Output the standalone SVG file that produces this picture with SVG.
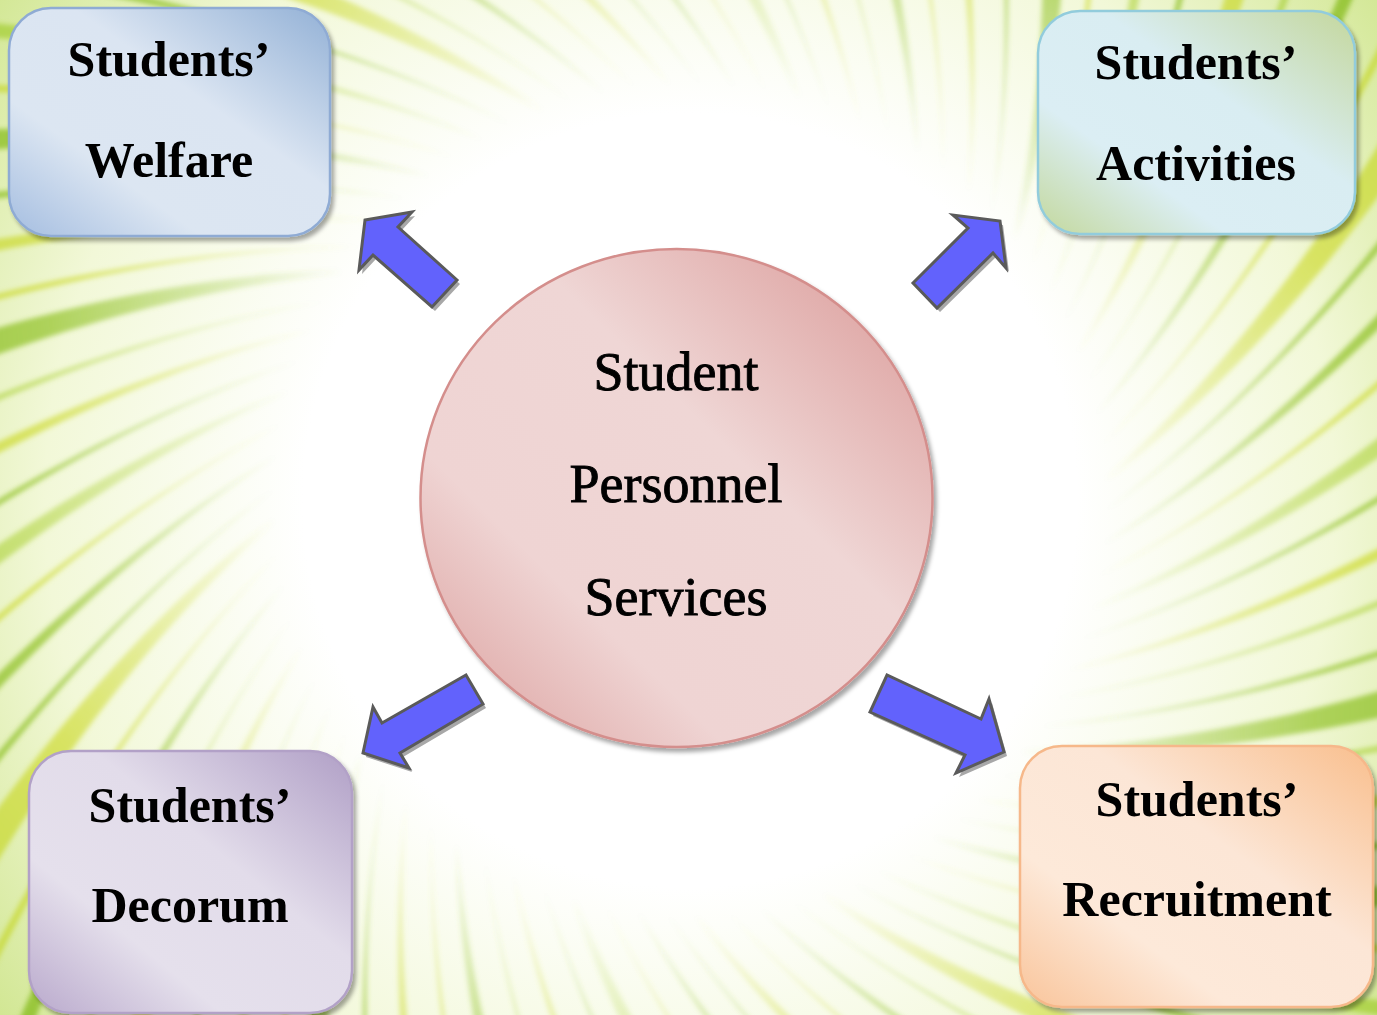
<svg xmlns="http://www.w3.org/2000/svg" xmlns:xlink="http://www.w3.org/1999/xlink" width="1377" height="1015" viewBox="0 0 1377 1015">
<style>
.box{stroke-width:2.5}
.lbl{font-family:"Liberation Serif","Times New Roman",serif;font-weight:bold;font-size:50px;fill:#000;text-anchor:middle}
.clbl{font-family:"Liberation Serif","Times New Roman",serif;font-size:54px;fill:#000;stroke:#000;stroke-width:0.9;text-anchor:middle}
.arrow{fill:#6262fc;stroke:#5a5a5a;stroke-width:3;stroke-linejoin:miter}
.arrowsh{fill:#a8a8a8}
</style>
<defs>
<radialGradient id="bg" cx="690" cy="500" r="860" gradientUnits="userSpaceOnUse">
<stop offset="0" stop-color="#ffffff"/>
<stop offset="0.45" stop-color="#ffffff"/>
<stop offset="0.75" stop-color="#f2f8d8"/>
<stop offset="1" stop-color="#d2e794"/>
</radialGradient>
<linearGradient id="gG" x1="330" y1="0" x2="880" y2="0" gradientUnits="userSpaceOnUse">
<stop offset="0" stop-color="#9cc83a" stop-opacity="0"/>
<stop offset="0.55" stop-color="#9cc83a" stop-opacity="0.8"/>
<stop offset="1" stop-color="#94c436" stop-opacity="1"/>
</linearGradient>
<linearGradient id="gY" x1="330" y1="0" x2="880" y2="0" gradientUnits="userSpaceOnUse">
<stop offset="0" stop-color="#d4e050" stop-opacity="0"/>
<stop offset="0.55" stop-color="#d4e050" stop-opacity="0.85"/>
<stop offset="1" stop-color="#c6da48" stop-opacity="1"/>
</linearGradient>
<linearGradient id="gL" x1="330" y1="0" x2="880" y2="0" gradientUnits="userSpaceOnUse">
<stop offset="0" stop-color="#b4d648" stop-opacity="0"/>
<stop offset="0.55" stop-color="#b4d648" stop-opacity="0.65"/>
<stop offset="1" stop-color="#a8d040" stop-opacity="0.9"/>
</linearGradient>
<path id="rA" d="M221,245 C450,270 800,200 1200,-32 L1200,32 C800,234 450,278 221,245 Z"/>
<path id="rB" d="M221,245 C450,270 800,200 1200,-12 L1200,12 C800,216 450,273 221,245 Z"/>
<path id="rC" d="M221,245 C450,270 800,200 1200,-20 L1200,20 C800,224 450,275 221,245 Z"/>
<path id="rD" d="M221,245 C450,270 800,200 1200,-6 L1200,6 C800,210 450,271 221,245 Z"/>
<filter id="blur" x="-10%" y="-10%" width="120%" height="120%"><feGaussianBlur stdDeviation="2.5"/></filter>
<filter id="sh" x="-10%" y="-10%" width="125%" height="125%"><feDropShadow dx="3" dy="4" stdDeviation="2" flood-color="#000" flood-opacity="0.35"/></filter>
<linearGradient id="fWel" x1="0" y1="1" x2="1" y2="0">
<stop offset="0" stop-color="#a4bde0"/><stop offset="0.3" stop-color="#dce6f2"/><stop offset="0.6" stop-color="#dbe5f2"/><stop offset="1" stop-color="#93b1d6"/>
</linearGradient>
<linearGradient id="fAct" x1="0" y1="1" x2="1" y2="0">
<stop offset="0" stop-color="#c3d89c"/><stop offset="0.3" stop-color="#dbeef4"/><stop offset="0.6" stop-color="#d9edf2"/><stop offset="1" stop-color="#c4d79c"/>
</linearGradient>
<linearGradient id="fDec" x1="0" y1="1" x2="1" y2="0">
<stop offset="0" stop-color="#b9a9cc"/><stop offset="0.3" stop-color="#e5e0ec"/><stop offset="0.6" stop-color="#e2dcea"/><stop offset="1" stop-color="#b09fc6"/>
</linearGradient>
<linearGradient id="fRec" x1="0" y1="1" x2="1" y2="0">
<stop offset="0" stop-color="#f9c49a"/><stop offset="0.3" stop-color="#fde9d9"/><stop offset="0.6" stop-color="#fce6d6"/><stop offset="1" stop-color="#f9bf8e"/>
</linearGradient>
<linearGradient id="fCir" x1="0" y1="1" x2="1" y2="0">
<stop offset="0" stop-color="#d99a98"/><stop offset="0.3" stop-color="#efd4d3"/><stop offset="0.6" stop-color="#efd6d5"/><stop offset="1" stop-color="#d99694"/>
</linearGradient>
</defs>

<g id="background">
<rect x="0" y="0" width="1377" height="1015" fill="url(#bg)"/>
<g filter="url(#blur)">
<g transform="translate(690,500)">
<use xlink:href="#rA" fill="url(#gG)" transform="rotate(0)"/>
<use xlink:href="#rD" fill="url(#gL)" transform="rotate(4.5)"/>
<use xlink:href="#rB" fill="url(#gY)" transform="rotate(9)"/>
<use xlink:href="#rD" fill="url(#gG)" transform="rotate(13)"/>
<use xlink:href="#rC" fill="url(#gG)" transform="rotate(17)"/>
<use xlink:href="#rD" fill="url(#gY)" transform="rotate(21.5)"/>
<use xlink:href="#rB" fill="url(#gL)" transform="rotate(26)"/>
<use xlink:href="#rD" fill="url(#gG)" transform="rotate(30)"/>
<use xlink:href="#rA" fill="url(#gY)" transform="rotate(34)"/>
<use xlink:href="#rD" fill="url(#gL)" transform="rotate(38.5)"/>
<use xlink:href="#rB" fill="url(#gG)" transform="rotate(43)"/>
<use xlink:href="#rD" fill="url(#gY)" transform="rotate(47.5)"/>
<use xlink:href="#rC" fill="url(#gY)" transform="rotate(52)"/>
<use xlink:href="#rD" fill="url(#gG)" transform="rotate(56)"/>
<use xlink:href="#rB" fill="url(#gG)" transform="rotate(60)"/>
<use xlink:href="#rD" fill="url(#gY)" transform="rotate(64.5)"/>
<use xlink:href="#rA" fill="url(#gL)" transform="rotate(69)"/>
<use xlink:href="#rD" fill="url(#gG)" transform="rotate(73.5)"/>
<use xlink:href="#rB" fill="url(#gY)" transform="rotate(78)"/>
<use xlink:href="#rD" fill="url(#gL)" transform="rotate(82.5)"/>
<use xlink:href="#rC" fill="url(#gG)" transform="rotate(87)"/>
<use xlink:href="#rD" fill="url(#gY)" transform="rotate(91.5)"/>
<use xlink:href="#rB" fill="url(#gY)" transform="rotate(96)"/>
<use xlink:href="#rD" fill="url(#gG)" transform="rotate(100.5)"/>
<use xlink:href="#rA" fill="url(#gG)" transform="rotate(105)"/>
<use xlink:href="#rD" fill="url(#gY)" transform="rotate(109)"/>
<use xlink:href="#rB" fill="url(#gL)" transform="rotate(113)"/>
<use xlink:href="#rD" fill="url(#gG)" transform="rotate(117.5)"/>
<use xlink:href="#rC" fill="url(#gY)" transform="rotate(122)"/>
<use xlink:href="#rD" fill="url(#gL)" transform="rotate(126.5)"/>
<use xlink:href="#rB" fill="url(#gG)" transform="rotate(131)"/>
<use xlink:href="#rD" fill="url(#gY)" transform="rotate(135.5)"/>
<use xlink:href="#rA" fill="url(#gY)" transform="rotate(140)"/>
<use xlink:href="#rD" fill="url(#gG)" transform="rotate(144.5)"/>
<use xlink:href="#rB" fill="url(#gG)" transform="rotate(149)"/>
<use xlink:href="#rD" fill="url(#gY)" transform="rotate(153.5)"/>
<use xlink:href="#rC" fill="url(#gL)" transform="rotate(158)"/>
<use xlink:href="#rD" fill="url(#gG)" transform="rotate(162.5)"/>
<use xlink:href="#rB" fill="url(#gY)" transform="rotate(167)"/>
<use xlink:href="#rD" fill="url(#gL)" transform="rotate(171.5)"/>
<use xlink:href="#rA" fill="url(#gG)" transform="rotate(176)"/>
<use xlink:href="#rD" fill="url(#gY)" transform="rotate(180.5)"/>
<use xlink:href="#rB" fill="url(#gY)" transform="rotate(185)"/>
<use xlink:href="#rD" fill="url(#gG)" transform="rotate(189.5)"/>
<use xlink:href="#rC" fill="url(#gG)" transform="rotate(194)"/>
<use xlink:href="#rD" fill="url(#gY)" transform="rotate(198.5)"/>
<use xlink:href="#rB" fill="url(#gL)" transform="rotate(203)"/>
<use xlink:href="#rD" fill="url(#gG)" transform="rotate(207.5)"/>
<use xlink:href="#rA" fill="url(#gY)" transform="rotate(212)"/>
<use xlink:href="#rD" fill="url(#gL)" transform="rotate(216.5)"/>
<use xlink:href="#rB" fill="url(#gG)" transform="rotate(221)"/>
<use xlink:href="#rD" fill="url(#gY)" transform="rotate(225.5)"/>
<use xlink:href="#rC" fill="url(#gY)" transform="rotate(230)"/>
<use xlink:href="#rD" fill="url(#gG)" transform="rotate(234.5)"/>
<use xlink:href="#rB" fill="url(#gG)" transform="rotate(239)"/>
<use xlink:href="#rD" fill="url(#gY)" transform="rotate(243.5)"/>
<use xlink:href="#rA" fill="url(#gL)" transform="rotate(248)"/>
<use xlink:href="#rD" fill="url(#gG)" transform="rotate(252.5)"/>
<use xlink:href="#rB" fill="url(#gY)" transform="rotate(257)"/>
<use xlink:href="#rD" fill="url(#gL)" transform="rotate(261.5)"/>
<use xlink:href="#rC" fill="url(#gG)" transform="rotate(266)"/>
<use xlink:href="#rD" fill="url(#gY)" transform="rotate(270.5)"/>
<use xlink:href="#rB" fill="url(#gY)" transform="rotate(275)"/>
<use xlink:href="#rD" fill="url(#gG)" transform="rotate(279.5)"/>
<use xlink:href="#rA" fill="url(#gG)" transform="rotate(284)"/>
<use xlink:href="#rD" fill="url(#gY)" transform="rotate(288.5)"/>
<use xlink:href="#rB" fill="url(#gL)" transform="rotate(293)"/>
<use xlink:href="#rD" fill="url(#gG)" transform="rotate(297.5)"/>
<use xlink:href="#rC" fill="url(#gY)" transform="rotate(302)"/>
<use xlink:href="#rD" fill="url(#gL)" transform="rotate(306.5)"/>
<use xlink:href="#rB" fill="url(#gG)" transform="rotate(311)"/>
<use xlink:href="#rD" fill="url(#gY)" transform="rotate(315.5)"/>
<use xlink:href="#rA" fill="url(#gY)" transform="rotate(320)"/>
<use xlink:href="#rD" fill="url(#gG)" transform="rotate(324.5)"/>
<use xlink:href="#rB" fill="url(#gG)" transform="rotate(329)"/>
<use xlink:href="#rD" fill="url(#gY)" transform="rotate(333.5)"/>
<use xlink:href="#rC" fill="url(#gL)" transform="rotate(338)"/>
<use xlink:href="#rD" fill="url(#gG)" transform="rotate(342.5)"/>
<use xlink:href="#rB" fill="url(#gY)" transform="rotate(347)"/>
<use xlink:href="#rD" fill="url(#gL)" transform="rotate(351.5)"/>
<use xlink:href="#rD" fill="url(#gG)" transform="rotate(356)"/>
</g>
</g>
</g>

<g id="connectors">
<g id="arrow-welfare">
<path class="arrowsh" transform="translate(3,4)" d="M365,220 L412,212 L398,227 L457,280 L432,307 L373,255 L359,270 Z"/>
<path class="arrow" d="M365,220 L412,212 L398,227 L457,280 L432,307 L373,255 L359,270 Z"/>
</g>
<g id="arrow-activities">
<path class="arrowsh" transform="translate(3,4)" d="M1000,221 L1006,268 L993,253 L937,308 L913,283 L968,228 L953,215 Z"/>
<path class="arrow" d="M1000,221 L1006,268 L993,253 L937,308 L913,283 L968,228 L953,215 Z"/>
</g>
<g id="arrow-decorum">
<path class="arrowsh" transform="translate(3,4)" d="M363,753 L373,707 L382,723 L466,675 L483,704 L400,753 L409,768 Z"/>
<path class="arrow" d="M363,753 L373,707 L382,723 L466,675 L483,704 L400,753 L409,768 Z"/>
</g>
<g id="arrow-recruitment">
<path class="arrowsh" transform="translate(3,4)" d="M1004,752 L956,773 L965,755 L870,712 L887,675 L981,719 L989,699 Z"/>
<path class="arrow" d="M1004,752 L956,773 L965,755 L870,712 L887,675 L981,719 L989,699 Z"/>
</g>
</g>

<g id="node-center">
<ellipse cx="676.5" cy="498" rx="256" ry="249" fill="url(#fCir)" stroke="#d48e8c" stroke-width="2.5" filter="url(#sh)"/>
<text class="clbl" x="676" y="390">Student</text>
<text class="clbl" x="676" y="502">Personnel</text>
<text class="clbl" x="676" y="615">Services</text>
</g>

<g id="node-welfare">
<rect class="box" x="9" y="8" width="321" height="228" rx="42" fill="url(#fWel)" stroke="#8fabd4" filter="url(#sh)"/>
<text class="lbl" x="169" y="76">Students’</text>
<text class="lbl" x="169" y="177">Welfare</text>
</g>

<g id="node-activities">
<rect class="box" x="1038" y="11" width="317" height="223" rx="42" fill="url(#fAct)" stroke="#92ccdc" filter="url(#sh)"/>
<text class="lbl" x="1196" y="79">Students’</text>
<text class="lbl" x="1196" y="180">Activities</text>
</g>

<g id="node-decorum">
<rect class="box" x="29" y="751" width="323" height="262" rx="42" fill="url(#fDec)" stroke="#b2a1c7" filter="url(#sh)"/>
<text class="lbl" x="190" y="822">Students’</text>
<text class="lbl" x="190" y="922">Decorum</text>
</g>

<g id="node-recruitment">
<rect class="box" x="1020" y="746" width="353" height="261" rx="42" fill="url(#fRec)" stroke="#f6b88a" filter="url(#sh)"/>
<text class="lbl" x="1197" y="816">Students’</text>
<text class="lbl" x="1197" y="916">Recruitment</text>
</g>
</svg>
